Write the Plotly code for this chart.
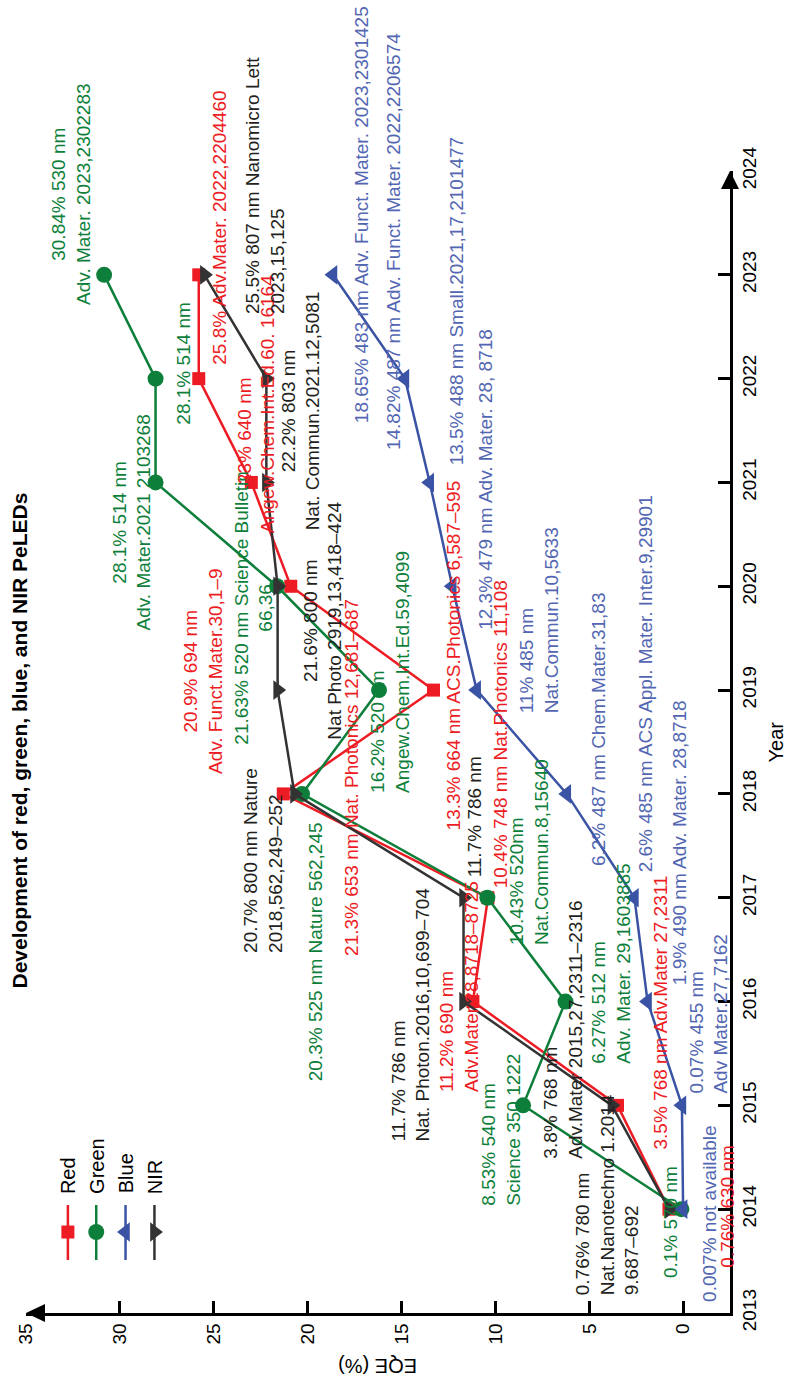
import plotly.graph_objects as go

# ---- data -------------------------------------------------------------
years = [2014, 2015, 2016, 2017, 2018, 2019, 2020, 2021, 2022, 2023]
eqe_red = [0.76, 3.5, 11.2, 10.4, 21.3, 13.3, 20.9, 23.0, 25.8, 25.8]
eqe_green = [0.1, 8.53, 6.27, 10.43, 20.3, 16.2, 21.63, 28.1, 28.1, 30.84]
eqe_blue = [0.007, 0.07, 1.9, 2.6, 6.2, 11.0, 12.3, 13.5, 14.82, 18.65]
eqe_nir = [0.76, 3.8, 11.7, 11.7, 20.7, 21.6, 21.6, 22.2, 22.2, 25.5]

series_names = ["Red", "Green", "Blue", "NIR"]
eqe_ticks = [0, 5, 10, 15, 20, 25, 30, 35]
year_ticks = list(range(2013, 2025))

# ---- style ------------------------------------------------------------
FONT = "Liberation Sans, Arial, Helvetica, sans-serif"
RED = "#ED1C24"
GREEN = "#0E7F3B"
BLUE = "#3A53A4"
BLUE_TXT = "#5266B2"
NIR = "#333333"
BLACK_TXT = "#231F20"

X_RANGE = [35, -2.49]      # EQE axis runs right-to-left
Y_RANGE = [2013, 2024]     # year axis runs bottom-to-top

styles = {
    "Red": dict(color=RED, symbol="square", size=13),
    "Green": dict(color=GREEN, symbol="circle", size=16),
    "Blue": dict(color=BLUE, symbol="triangle-left", size=17),
    "NIR": dict(color=NIR, symbol="triangle-right", size=17),
}
series_values = {"Red": eqe_red, "Green": eqe_green, "Blue": eqe_blue, "NIR": eqe_nir}

fig = go.Figure()

for name in ["Red", "Green", "NIR", "Blue"]:
    st = styles[name]
    fig.add_trace(go.Scatter(
        x=series_values[name], y=years, mode="lines+markers", name=name,
        line=dict(color=st["color"], width=2.5),
        marker=dict(symbol=st["symbol"], size=st["size"], color=st["color"]),
        cliponaxis=False, showlegend=False, hoverinfo="skip",
    ))

# ---- hand-drawn legend (vertical glyphs, rotated labels) ---------------
legend_x = [32.77, 31.26, 29.70, 28.16]
legend_line = (2013.51, 2014.04)
legend_mark_y = 2013.78
for name, lx in zip(series_names, legend_x):
    st = styles[name]
    fig.add_trace(go.Scatter(
        x=[lx, lx], y=list(legend_line), mode="lines",
        line=dict(color=st["color"], width=2.5),
        showlegend=False, hoverinfo="skip", cliponaxis=False))
    fig.add_trace(go.Scatter(
        x=[lx], y=[legend_mark_y], mode="markers",
        marker=dict(symbol=st["symbol"], size=st["size"], color=st["color"]),
        showlegend=False, hoverinfo="skip", cliponaxis=False))
    fig.add_annotation(x=lx, y=2014.13, text=name, showarrow=False,
                       textangle=-90, xanchor="center", yanchor="bottom",
                       font=dict(family=FONT, size=20, color="#000000"))

# ---- point labels: (text, EQE, year, colour, align) -------------------
labels = [
    # green
    ("30.84% 530 nm<br>Adv. Mater. 2023,2302283", 32.60, 2023.77, GREEN, "center"),
    ("28.1% 514 nm", 26.66, 2022.15, GREEN, "center"),
    ("28.1% 514 nm<br>Adv. Mater.2021 2103268", 29.38, 2020.61, GREEN, "center"),
    ("21.63% 520 nm Science Bulletin<br>66,36", 22.88, 2019.79, GREEN, "center"),
    ("16.2% 520 nm<br>Angew.Chem.Int.Ed.59,4099", 15.59, 2019.18, GREEN, "left"),
    ("20.3% 525 nm Nature 562,245", 19.58, 2016.48, GREEN, "center"),
    ("10.43% 520nm<br>Nat.Commun.8,15640", 8.21, 2017.44, GREEN, "left"),
    ("6.27% 512 nm<br>Adv. Mater. 29,1603885", 3.82, 2016.36, GREEN, "left"),
    ("8.53% 540 nm<br>Science 350 1222", 9.68, 2014.77, GREEN, "left"),
    ("0.1% 570 nm", 0.68, 2013.88, GREEN, "center"),
    # red
    ("25.8% Adv.Mater. 2022,2204460", 24.74, 2023.45, RED, "center"),
    ("23% 640 nm", 23.36, 2021.50, RED, "center"),
    ("Angew.Chem.Int.Ed.60. 16164", 22.14, 2021.76, RED, "center"),
    ("20.9% 694 nm<br>Adv. Funct.Mater.30,1\u20139", 25.54, 2019.18, RED, "center"),
    ("21.3% 653 nm Nat. Photonics 12,681\u2013687", 17.66, 2018.16, RED, "center"),
    ("13.3% 664 nm ACS.Photonics 6,587\u2013595", 12.23, 2019.33, RED, "center"),
    ("10.4% 748 nm Nat.Photonics 11,108", 9.73, 2018.57, RED, "center"),
    ("11.2% 690 nm<br>Adv.Mater.28,8718\u20138725", 11.94, 2016.14, RED, "left"),
    ("3.5% 768 nm Adv.Mater 27,2311", 1.21, 2015.89, RED, "center"),
    ("0.76% 630 nm", -2.36, 2014.03, RED, "center"),
    # blue
    ("18.65% 483 nm Adv. Funct. Mater. 2023,2301425", 17.13, 2023.58, BLUE_TXT, "center"),
    ("14.82% 487 nm Adv. Funct. Mater. 2022,2206574", 15.43, 2023.32, BLUE_TXT, "center"),
    ("13.5% 488 nm Small.2021,17,2101477", 12.07, 2022.75, BLUE_TXT, "center"),
    ("12.3% 479 nm Adv. Mater. 28, 8718", 10.53, 2021.03, BLUE_TXT, "center"),
    ("11% 485 nm<br>Nat.Commun.10,5633", 7.70, 2019.67, BLUE_TXT, "left"),
    ("6.2% 487 nm Chem.Mater.31,83", 4.51, 2018.62, BLUE_TXT, "center"),
    ("2.6% 485 nm ACS Appl. Mater. Inter.9,29901", 2.01, 2019.06, BLUE_TXT, "center"),
    ("1.9% 490 nm Adv. Mater. 28,8718", 0.20, 2017.53, BLUE_TXT, "center"),
    ("0.07% 455 nm<br>Adv Mater.27,7162", -1.35, 2015.88, BLUE_TXT, "left"),
    ("0.007% not available", -1.40, 2013.95, BLUE_TXT, "center"),
    # NIR
    ("25.5% 807 nm Nanomicro Lett<br>2023,15,125", 22.30, 2023.86, BLACK_TXT, "left"),
    ("22.2% 803 nm<br>Nat. Commun.2021.12,5081", 20.38, 2021.69, BLACK_TXT, "center"),
    ("21.6% 800 nm<br>Nat Photo 2919,13,418\u2013424", 19.23, 2019.67, BLACK_TXT, "center"),
    ("20.7% 800 nm Nature<br>2018,562,249\u2013252", 22.35, 2017.36, BLACK_TXT, "left"),
    ("11.7% 786 nm", 11.11, 2017.78, BLACK_TXT, "center"),
    ("11.7% 786 nm<br>Nat. Photon.2016,10,699\u2013704", 14.52, 2015.87, BLACK_TXT, "left"),
    ("3.8% 768 nm<br>Adv.Mater 2015,27,2311\u20132316", 6.40, 2015.73, BLACK_TXT, "left"),
    ("0.76% 780 nm<br>Nat.Nanotechno 1.2014<br>9.687\u2013692", 4.08, 2014.14, BLACK_TXT, "left"),
]
for text, lx, ly, col, al in labels:
    fig.add_annotation(x=lx, y=ly, text=text, showarrow=False, textangle=-90,
                       align=al, xanchor="center", yanchor="middle",
                       font=dict(family=FONT, size=19, color=col))

# ---- title and axis titles --------------------------------------------
fig.add_annotation(xref="paper", yref="paper", x=-0.009, y=0.501,
                   text="<b>Development of red, green, blue, and NIR PeLEDs</b>",
                   showarrow=False, textangle=-90, xanchor="center", yanchor="middle",
                   font=dict(family=FONT, size=21, color="#000000"))
fig.add_annotation(xref="paper", yref="paper", x=1.066, y=0.5, text="Year",
                   showarrow=False, textangle=-90, xanchor="center", yanchor="middle",
                   font=dict(family=FONT, size=20, color="#000000"))
fig.add_annotation(xref="paper", yref="paper", x=0.5, y=-0.047, text="EQE (%)",
                   showarrow=False, textangle=180, xanchor="center", yanchor="middle",
                   font=dict(family=FONT, size=20, color="#000000"))

# ---- arrowheads at the axis ends --------------------------------------
fig.add_shape(type="path", xref="paper", yref="paper",
              path="M 0,0 L 0.027,0.0079 L 0.027,-0.0079 Z",
              fillcolor="#000000", line=dict(width=0))
fig.add_shape(type="path", xref="paper", yref="paper",
              path="M 1,1 L 1.0128,0.9843 L 0.9872,0.9843 Z",
              fillcolor="#000000", line=dict(width=0))

axis_common = dict(
    showgrid=False, zeroline=False, showline=True, linecolor="#000000",
    linewidth=2.5, ticks="inside", ticklen=12, tickwidth=2.5,
    tickcolor="#000000", tickangle=-90,
    tickfont=dict(family=FONT, size=19, color="#000000"),
)
fig.update_xaxes(range=X_RANGE, tickvals=eqe_ticks, side="bottom", **axis_common)
fig.update_yaxes(range=Y_RANGE, tickvals=year_ticks, side="right", **axis_common)

fig.update_layout(
    width=786, height=1385,
    margin=dict(l=26, r=56, t=171, b=72, autoexpand=False),
    plot_bgcolor="#FFFFFF", paper_bgcolor="#FFFFFF",
    showlegend=False,
    font=dict(family=FONT, color="#000000"),
)

fig.write_html("out.html")
